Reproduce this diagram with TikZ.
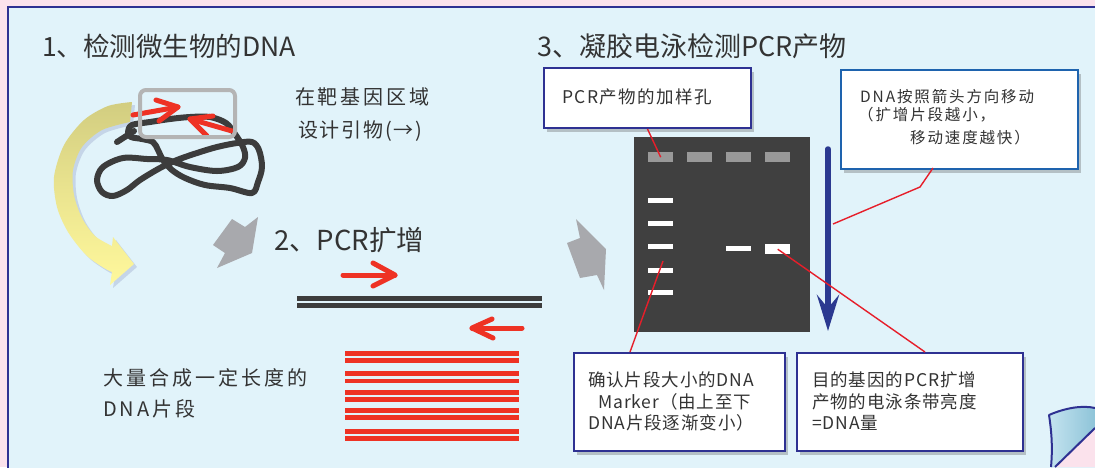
\documentclass[tikz,border=0pt]{standalone}
\usepackage{fontspec}
\setmainfont{Noto Sans CJK SC}
\newfontfamily\cjk{Noto Sans CJK SC}
\usetikzlibrary{shadows,arrows.meta,calc}

\definecolor{bgpink}{HTML}{FBE2EC}
\definecolor{panel}{HTML}{E1F3FA}
\definecolor{navy}{HTML}{2E3192}
\definecolor{txtgray}{HTML}{333333}
\definecolor{pred}{HTML}{EE3224}
\definecolor{leadred}{HTML}{E61E2A}
\definecolor{gel}{HTML}{404040}
\definecolor{wellgray}{HTML}{999999}
\definecolor{migblue}{HTML}{2B3990}
\definecolor{boxblue}{HTML}{1E63AE}
\definecolor{framegray}{HTML}{B4B4B4}
\definecolor{blockgray}{HTML}{A8A9AD}
\definecolor{dnagray}{HTML}{3C3C3C}
\definecolor{arrowtop}{HTML}{D2CD80}
\definecolor{arrowbot}{HTML}{FFF89C}
\definecolor{curlA}{HTML}{8EC4D8}
\definecolor{curlB}{HTML}{C4E3EF}

\tikzset{
  txt/.style={inner sep=0pt, anchor=west, text=txtgray},
  title/.style={txt, font=\fontsize{26.5pt}{30pt}\selectfont},
  note/.style={txt, font=\fontsize{20pt}{23pt}\selectfont\addfontfeature{LetterSpace=14}},
  callout/.style={draw=navy, line width=2pt, fill=white, inner sep=0pt, anchor=north west,
    drop shadow={shadow xshift=3pt, shadow yshift=-4pt, opacity=0.3, fill=black!70}},
  boxtext/.style={txt, font=\fontsize{17.5pt}{20pt}\selectfont\addfontfeature{LetterSpace=5}},
  smalltext/.style={txt, font=\fontsize{15.5pt}{18pt}\selectfont\addfontfeature{LetterSpace=12}},
  leader/.style={draw=leadred, line width=1.4pt},
  primer/.style={draw=pred, line width=5pt, line cap=round, line join=round},
  well/.style={fill=wellgray, minimum width=25pt, minimum height=10pt, inner sep=0pt, anchor=north west},
  band/.style={fill=white, minimum width=25pt, minimum height=5pt, inner sep=0pt, anchor=north west},
  stripe/.style={fill=pred, minimum width=174pt, minimum height=4.7pt, inner sep=0pt, anchor=north west},
  strand/.style={draw=dnagray, line width=4.5pt},
  blockarrow/.style={fill=blockgray},
}

\begin{document}
\begin{tikzpicture}[x=1pt, y=-1pt]
\useasboundingbox (0,0) rectangle (1095,467);

% page and panel
\fill[bgpink] (0,0) rectangle (1095,467);
\fill[panel] (8,7) rectangle (1100,470);
\draw[navy, line width=2.2pt] (8,470) -- (8,7) -- (1100,7);

% ---------- 1. microbial DNA ----------
\node[title] (t1) at (42,46) {1、检测微生物的DNA};

% curved yellow arrow with its soft shadow
\begin{scope}[shift={(3,3)}]
\fill[black!60!blue, opacity=0.12]
  plot[smooth] coordinates {(132,102) (108,106) (84,120) (64,145) (54,177) (57,207) (68,232) (86,255) (104,268) (112,272)}
  -- (110,285) -- (134,264) -- (113,237) -- (112,246)
  -- plot[smooth] coordinates {(112,246) (95,236) (82,218) (74,195) (73,170) (82,147) (102,130) (130,122)} -- cycle;
\end{scope}
\shade[top color=arrowtop, bottom color=arrowbot, middle color=arrowtop!45!arrowbot]
  plot[smooth] coordinates {(132,102) (108,106) (84,120) (64,145) (54,177) (57,207) (68,232) (86,255) (104,268) (112,272)}
  -- (110,285) -- (134,264) -- (113,237) -- (112,246)
  -- plot[smooth] coordinates {(112,246) (95,236) (82,218) (74,195) (73,170) (82,147) (102,130) (130,122)} -- cycle;

% tangled DNA strand
\draw[dnagray, line width=6pt, line join=round, line cap=round]
  plot[smooth cycle, tension=0.55] coordinates {
    (238,167) (245,158) (243,147) (235,134) (226,123) (210,117) (190,117) (170,119)
    (150,122) (132,125) (128,132) (131,137) (142,139) (153,142) (158,150) (163,160)
    (172,170) (185,178) (205,185) (230,188) (252,193) (258,182) (262,167) (259,150)
    (252,142) (237,143) (217,147) (197,153) (177,160) (160,168) (140,180) (127,190)
    (113,196) (102,192) (97,180) (103,167) (123,158) (147,159) (167,160) (190,167)
    (217,171)};
\draw[dnagray, line width=6pt, line cap=round] (117,142) -- (134,131);

% primers on the target region
\coordinate (pa1) at (133,115); \coordinate (pa2) at (178,107);
\draw[primer] (pa1) -- (pa2);
\draw[primer] (156,100) -- (pa2) -- (159,121);
\coordinate (pb1) at (232,131); \coordinate (pb2) at (190,119);
\draw[primer] (pb1) -- (pb2);
\draw[primer] (213,116) -- (pb2) -- (207,136);

% target region frame
\node[draw=framegray, line width=4pt, rounded corners=6pt, minimum width=95pt, minimum height=47pt,
  inner sep=0pt, anchor=north west] (target) at (138,88) {};

\node[note] (tp1) at (295,97) {在靶基因区域};
\node[note, font=\fontsize{20pt}{23pt}\selectfont\addfontfeature{LetterSpace=9}] (tp2) at (298,131) {设计引物(→)};

% ---------- 2. PCR ----------
\fill[blockarrow] (213,245) -- (232,219) -- (245,227) -- (258,217) -- (252,253) -- (217,268) -- (225,253) -- cycle;
\node[txt, font=\fontsize{27.5pt}{30pt}\selectfont] (t2) at (274,240) {2、PCR扩增};

\coordinate (fa1) at (343,275); \coordinate (fa2) at (395,275);
\draw[primer] (fa1) -- (fa2);
\draw[primer] (373,263) -- (fa2) -- (373,286);
\coordinate (ra1) at (522,328); \coordinate (ra2) at (472,328);
\draw[primer] (ra1) -- (ra2);
\draw[primer] (492,319) -- (ra2) -- (493,338);

\coordinate (s1a) at (297,298.3); \coordinate (s1b) at (542,298.3);
\coordinate (s2a) at (297,305.7); \coordinate (s2b) at (542,305.7);
\draw[strand] (s1a) -- (s1b);
\draw[strand] (s2a) -- (s2b);

\foreach \yy [count=\k] in {351,358,371,378.3,390,396.7,408,415,429,436}
  \node[stripe] (prod\k) at (345,\yy) {};

\node[note, font=\fontsize{20pt}{23pt}\selectfont\addfontfeature{LetterSpace=15}] (tl1) at (103,378) {大量合成一定长度的};
\node[note, font=\fontsize{20pt}{23pt}\selectfont\addfontfeature{LetterSpace=15}] (tl2) at (103,409) {DNA片段};

% ---------- 3. gel electrophoresis ----------
\fill[blockarrow] (567,243) -- (580,238) -- (576,219) -- (606,249) -- (604,290) -- (597,275) -- (580,278) -- cycle;
\node[title, font=\fontsize{27pt}{30pt}\selectfont] (t3) at (537,46) {3、凝胶电泳检测PCR产物};

\node[fill=gel, minimum width=176pt, minimum height=195pt, inner sep=0pt, anchor=north west] (gelslab) at (634,137) {};
\foreach \xx [count=\k] in {648,687,726,765}
  \node[well] (w\k) at (\xx,152) {};
\foreach \yy [count=\k] in {198,221,244,268,290}
  \node[band] (m\k) at (648,\yy) {};
\node[band] (b3) at (726,246) {};
\node[band, minimum height=10pt] (b4) at (765,244) {};

% migration direction
\coordinate (mtop) at (828,149);
\coordinate (mbot) at (828,331);
\draw[migblue, line width=5.5pt, line cap=round,
  -{Stealth[length=36pt, width=22pt, inset=13pt]}] (mtop) -- (mbot);

% callouts
\node[callout, minimum width=207pt, minimum height=60pt] (box1) at (543,67) {};
\node[boxtext, font=\fontsize{17.5pt}{20pt}\selectfont\addfontfeature{LetterSpace=8}] (c1) at (562,97) {PCR产物的加样孔};

\node[callout, draw=boxblue, minimum width=237pt, minimum height=99pt] (box2) at (840,69) {};
\node[smalltext] (c2a) at (860,97) {DNA按照箭头方向移动};
\node[smalltext] (c2b) at (858,115) {（扩增片段越小，};
\node[smalltext] (c2c) at (910,138) {移动速度越快）};

\node[callout, minimum width=211pt, minimum height=98pt] (box3) at (573,352) {};
\node[boxtext] (c3a) at (588,380) {确认片段大小的DNA};
\node[boxtext] (c3b) at (598,402) {Marker（由上至下};
\node[boxtext] (c3c) at (588,423) {DNA片段逐渐变小）};

\node[callout, minimum width=226pt, minimum height=98pt] (box4) at (796,352) {};
\node[boxtext] (c4a) at (812,380) {目的基因的PCR扩增};
\node[boxtext] (c4b) at (812,402) {产物的电泳条带亮度};
\node[boxtext] (c4c) at (812,423) {=DNA量};

% leader lines
\draw[leader] (box1.south) -- (w1.center);
\coordinate (l2a) at (933,168);
\coordinate (l2b) at (920,187);
\coordinate (l2c) at (833,224);
\draw[leader] (l2a) -- (l2b) -- (l2c);
\coordinate (l3a) at (630,352);
\coordinate (l3b) at (663,261);
\draw[leader] (l3a) -- (l3b);
\coordinate (l4b) at (925,352);
\draw[leader] (b4.center) -- (l4b);

% page curl
\fill[bgpink] (1055,467) -- (1095,428) -- (1095,467) -- cycle;
\shade[left color=curlB, right color=curlA]
  (1051,467) .. controls (1053,445) and (1051,428) .. (1049,415)
  .. controls (1065,408) and (1082,405) .. (1095,408) -- (1095,428) -- (1055,467) -- cycle;
\draw[navy, line width=2pt, line join=round]
  (1051,467) .. controls (1053,445) and (1051,428) .. (1049,415)
  .. controls (1065,408) and (1082,405) .. (1095,408);
\draw[navy, line width=2pt] (1055,467) -- (1095,428);
\end{tikzpicture}
\end{document}
